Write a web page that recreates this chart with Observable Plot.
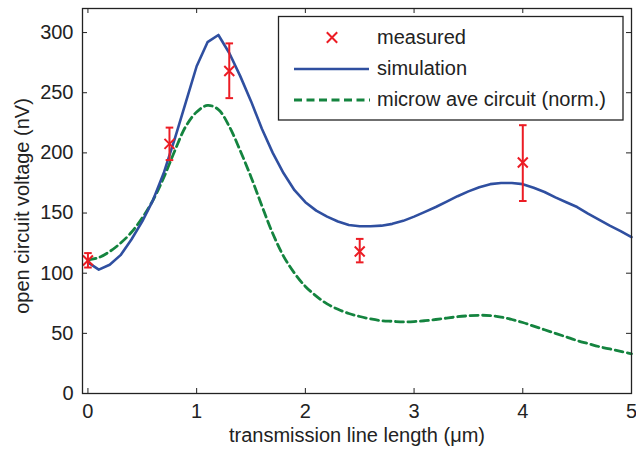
<!DOCTYPE html>
<html>
<head>
<meta charset="utf-8">
<script src="https://cdn.jsdelivr.net/npm/d3@7"></script>
<script src="https://cdn.jsdelivr.net/npm/@observablehq/plot@0.6"></script>
<style>
  html, body { margin: 0; padding: 0; background: #fff; }
  #chart { position: relative; width: 636px; height: 454px; }
</style>
</head>
<body>
<div id="chart"></div>
<script>
// ---- data ----
const measuredX  = [0, 0.75, 1.3, 2.5, 4.0];
const measuredY  = [110.5, 207.5, 268, 118, 192];
const measuredLo = [104.7, 194, 245.5, 109, 160];
const measuredHi = [116.7, 221, 291, 128.5, 223];

const simX = [0,0.1,0.2,0.3,0.4,0.5,0.6,0.7,0.8,0.9,1.0,1.1,1.2,1.3,1.4,1.5,1.6,1.7,1.8,1.9,2.0,2.1,2.2,2.3,2.4,2.5,2.6,2.7,2.8,2.9,3.0,3.1,3.2,3.3,3.4,3.5,3.6,3.7,3.8,3.9,4.0,4.1,4.2,4.3,4.4,4.5,4.6,4.7,4.8,4.9,5.0];
const simY = [109,103,107,115,128,143,161,184,212,242,272,292,298,283,264,243,220,200,183,169,159,152,147,143,140,139,139,139.5,141,143.5,147,151,155,159.5,164,168,171.5,174,175,175,174,171,167.5,163,159,155,149.5,144.5,139.5,135,130];

const mwX = simX;
const mwY = [111,113,118,125,134,146,161,180,202,222,234,239.5,236,222,202,180,156,133,114,100,89,81,74.5,70,66.5,64,62,60.5,60,59.5,59.8,60.5,61.5,62.7,63.8,64.6,65,64.8,63.5,61.5,59,56,53,50,47,44,41.5,39,37,35,33];

const xTicks = [0, 1, 2, 3, 4, 5];
const yTicks = [0, 50, 100, 150, 200, 250, 300];

const legendLabels = ["measured", "simulation", "microw ave circuit (norm.)"];
const xLabel = "transmission line length (\u03bcm)";
const yLabel = "open circuit voltage (nV)";

// ---- tables ----
const measured = measuredX.map((x, i) => ({x, y: measuredY[i], lo: measuredLo[i], hi: measuredHi[i]}));
const sim = simX.map((x, i) => ({x, y: simY[i]}));
const mw = mwX.map((x, i) => ({x, y: mwY[i]}));

// ---- layout ----
const W = 636, H = 454, ML = 82, MR = 5, MT = 8, MB = 61;
const FW = W - ML - MR, FH = H - MT - MB, TICK = 5;
const FONT = "'Liberation Sans', Arial, Helvetica, sans-serif";

const RED = "#ec1c24", BLUE = "#2f4fa0", GREEN = "#14843f", INK = "#222";
const capSymbol = {draw(ctx, size) { const r = Math.sqrt(size / Math.PI); ctx.moveTo(-r, 0); ctx.lineTo(r, 0); }};

const plot = Plot.plot({
  width: W, height: H,
  marginLeft: ML, marginRight: MR, marginTop: MT, marginBottom: MB,
  style: {fontFamily: FONT, fontSize: "20px", color: INK, background: "#fff"},
  x: {domain: [-0.05, 5], label: null},
  y: {domain: [0, 320], label: null},
  marks: [
    Plot.line(mw, {x: "x", y: "y", stroke: GREEN, strokeWidth: 2.8, strokeDasharray: "8,4.5", curve: "catmull-rom"}),
    Plot.line(sim, {x: "x", y: "y", stroke: BLUE, strokeWidth: 2.6}),
    Plot.ruleX(measured, {x: "x", y1: "lo", y2: "hi", stroke: RED, strokeWidth: 2}),
    Plot.dot(measured, {x: "x", y: "hi", symbol: capSymbol, r: 3.8, stroke: RED, strokeWidth: 2}),
    Plot.dot(measured, {x: "x", y: "lo", symbol: capSymbol, r: 3.8, stroke: RED, strokeWidth: 2}),
    Plot.dot(measured, {x: "x", y: "y", symbol: "times", r: 4.6, stroke: RED, strokeWidth: 2}),
    // tick labels
    Plot.axisX({ticks: xTicks, tickSize: 0, tickPadding: 10, tickFormat: d3.format("d"), label: null, fill: INK}),
    Plot.axisY({ticks: yTicks, tickSize: 0, tickPadding: 9, tickFormat: d3.format("d"), label: null, fill: INK}),
    // inward ticks on all four sides
    Plot.tickX(xTicks, {x: d => d, insetTop: FH - TICK, stroke: INK}),
    Plot.tickX(xTicks, {x: d => d, insetBottom: FH - TICK, stroke: INK}),
    Plot.tickY(yTicks, {y: d => d, insetRight: FW - TICK, stroke: INK}),
    Plot.tickY(yTicks, {y: d => d, insetLeft: FW - TICK, stroke: INK}),
    Plot.frame({stroke: INK, strokeWidth: 1.3}),
    Plot.text([xLabel], {frameAnchor: "bottom", textAnchor: "middle", dy: 48, fill: INK, fontSize: 20}),
    Plot.text([yLabel], {frameAnchor: "left", textAnchor: "middle", dx: -60, dy: 5, rotate: -90, fill: INK, fontSize: 20})
  ]
});
document.getElementById("chart").appendChild(plot);

// ---- legend (drawn into the same SVG) ----
const svg = d3.select(plot);
const lg = svg.append("g").attr("font-family", FONT).attr("font-size", 20).attr("text-anchor", "start");
lg.append("rect").attr("x", 278.5).attr("y", 16.5).attr("width", 344.5).attr("height", 103.5)
  .attr("fill", "#fff").attr("stroke", INK).attr("stroke-width", 1.3);
const rowY = [37.5, 69, 100];
const m = 5.2;
lg.append("path").attr("d", `M${332-m},${rowY[0]-m}L${332+m},${rowY[0]+m}M${332-m},${rowY[0]+m}L${332+m},${rowY[0]-m}`)
  .attr("stroke", RED).attr("stroke-width", 2).attr("fill", "none");
lg.append("line").attr("x1", 294).attr("x2", 369).attr("y1", rowY[1]).attr("y2", rowY[1])
  .attr("stroke", BLUE).attr("stroke-width", 2.6);
lg.append("line").attr("x1", 294).attr("x2", 370).attr("y1", rowY[2]).attr("y2", rowY[2])
  .attr("stroke", GREEN).attr("stroke-width", 2.8).attr("stroke-dasharray", "8,4.5");
legendLabels.forEach((t, i) => {
  lg.append("text").attr("x", 377).attr("y", rowY[i]).attr("dy", "0.32em").attr("fill", INK).text(t);
});
</script>
</body>
</html>
